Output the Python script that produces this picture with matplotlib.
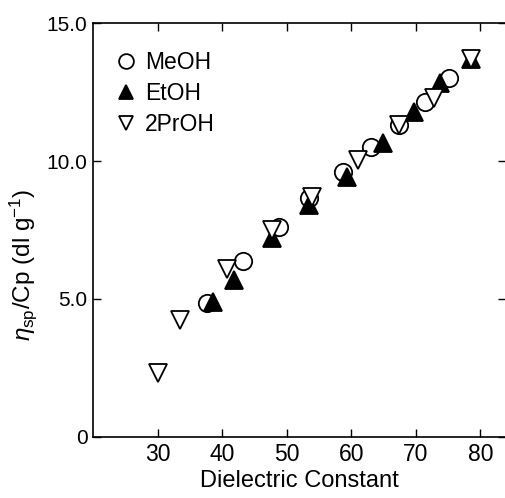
import numpy as np
import matplotlib
matplotlib.use("Agg")
import matplotlib.pyplot as plt

plt.rcParams['font.family'] = ['Liberation Sans', 'DejaVu Sans']
plt.rcParams['mathtext.fontset'] = 'custom'
plt.rcParams['mathtext.rm'] = 'Liberation Sans'
plt.rcParams['mathtext.it'] = 'Liberation Sans:italic'

# data: dielectric constant vs reduced viscosity
meohX = [37.7, 43.3, 48.8, 53.4, 58.7, 63.0, 67.4, 71.5, 75.2]
meohY = [4.85, 6.38, 7.60, 8.66, 9.60, 10.52, 11.30, 12.15, 13.00]
etohX = [38.6, 41.8, 47.8, 53.4, 59.4, 64.9, 69.7, 73.7, 78.5]
etohY = [4.90, 5.70, 7.20, 8.40, 9.42, 10.64, 11.78, 12.83, 13.70]
prohX = [30.1, 33.4, 40.8, 47.8, 54.0, 61.0, 67.4, 72.8, 78.5]
prohY = [2.32, 4.24, 6.10, 7.50, 8.70, 10.04, 11.30, 12.30, 13.70]

xTicks = [30, 40, 50, 60, 70, 80]
yTicks = [0, 5, 10, 15]
yTickLabels = ['0', '5.0', '10.0', '15.0']

fig = plt.figure(figsize=(5.05, 4.98), dpi=100)
ax = fig.add_axes([0.1842, 0.1225, 0.818, 0.8313])

ms = 12.5
ax.plot(meohX, meohY, 'o', ms=ms, mfc='white', mec='black', mew=1.3, label='MeOH')
ax.plot(etohX, etohY, '^', ms=ms, mfc='black', mec='black', mew=1.3, label='EtOH')
ax.plot(prohX, prohY, 'v', ms=ms, mfc='white', mec='black', mew=1.3, label='2PrOH')

ax.set_xlim(20, 84)
ax.set_ylim(0, 15)
ax.set_xticks(xTicks)
ax.set_yticks(yTicks)
ax.set_yticklabels(yTickLabels)
ax.tick_params(direction='in', length=6, width=1, pad=4, top=True, right=True)
ax.tick_params(axis='x', labelsize=16.5)
ax.tick_params(axis='y', labelsize=15)
for s in ax.spines.values():
    s.set_linewidth(1.2)

ax.set_xlabel('Dielectric Constant', fontsize=17)
ax.xaxis.set_label_coords(0.5, -0.08)
ax.set_ylabel(r'$\eta_{\rm sp}$/Cp (dl g$^{-1}$)', fontsize=17.5)
ax.yaxis.set_label_coords(-0.13, 0.415)

ax.legend(loc='upper left', frameon=False, fontsize=16.5, markerscale=0.85,
          handlelength=0.8, handletextpad=0.45, labelspacing=0.36,
          borderaxespad=0.0, bbox_to_anchor=(0.035, 0.955))

fig.savefig('out.png', dpi=100)
